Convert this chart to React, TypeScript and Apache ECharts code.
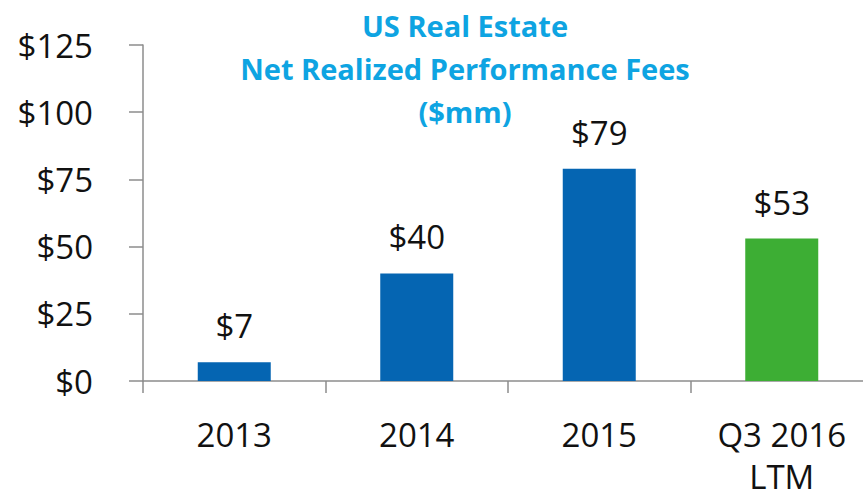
import React, { useEffect, useRef } from "react";
import * as echarts from "echarts";

const categories = ["2013", "2014", "2015", "Q3 2016\nLTM"];
const values = [7, 40, 79, 53];
const barColors = ["#0565B2", "#0565B2", "#0565B2", "#3DAE34"];
const yTicks = { min: 0, max: 125, interval: 25 };
const titleLines = ["US Real Estate", "Net Realized Performance Fees", "($mm)"];

const FONT = "'Open Sans', 'Noto Sans', sans-serif";

export default function App() {
  const ref = useRef<HTMLDivElement>(null);
  useEffect(() => {
    if (!ref.current) return;
    const chart = echarts.init(ref.current, undefined, { renderer: "svg" });
    chart.setOption({
      animation: false,
      backgroundColor: "#ffffff",
      grid: { left: 143, top: 45, bottom: 117, right: -10, outerBoundsMode: "none", containLabel: false },
      graphic: [
        {
          type: "text",
          x: 465,
          y: 4,
          style: {
            text: titleLines.join("\n"),
            fill: "#0EA4E2",
            font: `bold 29px ${FONT}`,
            textAlign: "center",
            textVerticalAlign: "top",
            lineHeight: 43,
          },
        },
      ],
      xAxis: {
        type: "category",
        data: categories,
        axisLine: { show: true, lineStyle: { color: "#8c8c8c", width: 1.5 } },
        axisTick: { show: true, length: 12, lineStyle: { color: "#8c8c8c", width: 1.5 } },
        axisLabel: {
          color: "#111",
          fontSize: 33,
          fontFamily: FONT,
          margin: 32,
          lineHeight: 42,
          interval: 0,
        },
      },
      yAxis: {
        type: "value",
        min: yTicks.min,
        max: yTicks.max,
        interval: yTicks.interval,
        splitLine: { show: false },
        axisLine: { show: true, lineStyle: { color: "#8c8c8c", width: 1.5 } },
        axisTick: { show: true, length: 14, lineStyle: { color: "#8c8c8c", width: 1.5 } },
        axisLabel: {
          color: "#111",
          fontSize: 33,
          fontFamily: FONT,
          margin: 50,
          formatter: (v: number) => "$" + v,
        },
      },
      series: [
        {
          type: "bar",
          barWidth: "40%",
          data: values.map((v, i) => ({ value: v, itemStyle: { color: barColors[i] } })),
          label: {
            show: true,
            position: "top",
            distance: 20,
            color: "#111",
            fontSize: 33,
            fontFamily: FONT,
            formatter: (p: any) => "$" + p.value,
          },
        },
      ],
    });
    return () => chart.dispose();
  }, []);
  return <div ref={ref} style={{ width: 863, height: 498, position: "absolute", left: 0, top: 0 }} />;
}
